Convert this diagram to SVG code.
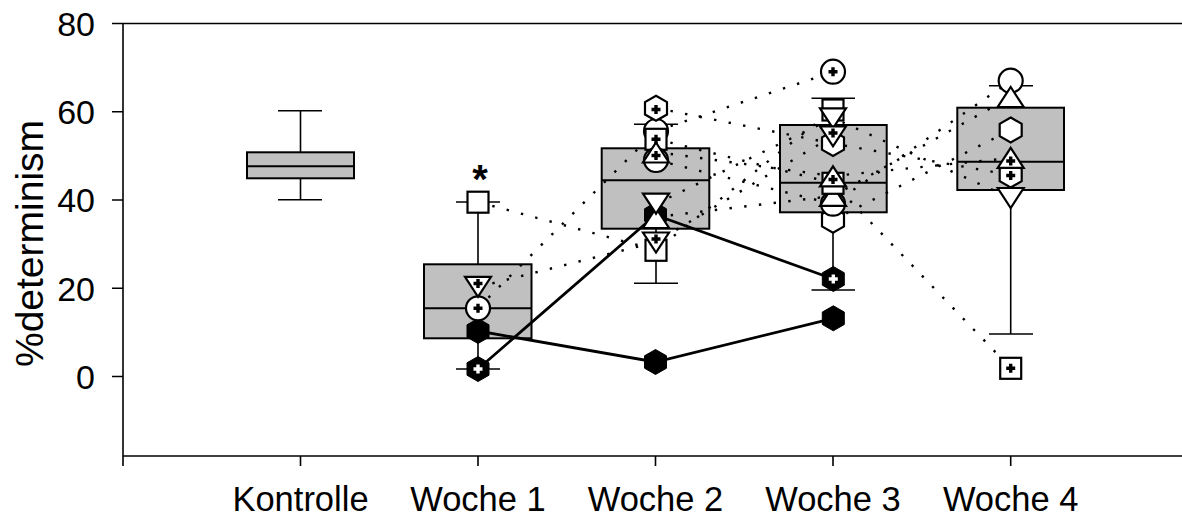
<svg xmlns="http://www.w3.org/2000/svg" xmlns:xlink="http://www.w3.org/1999/xlink" width="1182" height="523" viewBox="0 0 1182 523">
<style>
.ax{stroke:#000;stroke-width:1.6;fill:none}
.box{fill:#c0c0c0;stroke:#000;stroke-width:2}
.wh{stroke:#000;stroke-width:1.6;fill:none}
.dot{stroke:#000;stroke-width:2.4;stroke-dasharray:2.4 12.4;fill:none}
.sol{stroke:#000;stroke-width:2.8;fill:none}
.mk{fill:#fff;stroke:#000;stroke-width:2.2}
.bk{fill:#000;stroke:#000;stroke-width:1}
.cr{stroke:#000;stroke-width:3.4;fill:none}
.wcr{stroke:#fff;stroke-width:3.4;fill:none}
.tl{font-family:"Liberation Sans",Arial,sans-serif;font-size:34px;fill:#000}
.xl{font-family:"Liberation Sans",Arial,sans-serif;font-size:34.5px;fill:#000}
.ttl{font-family:"Liberation Sans",Arial,sans-serif;font-size:39px;fill:#000}
</style>
<defs>
<rect id="sq" class="mk" x="-10.5" y="-10.5" width="21" height="21"/>
<circle id="ci" class="mk" r="12"/>
<polygon id="tu" class="mk" points="0,-10 13,10 -13,10"/>
<polygon id="td" class="mk" points="-13,-10 13,-10 0,10"/>
<polygon id="hx" class="mk" points="0,-12.5 11,-6.2 11,6.2 0,12.5 -11,6.2 -11,-6.2"/>
<polygon id="bh" class="bk" points="0,-12.5 11,-6.2 11,6.2 0,12.5 -11,6.2 -11,-6.2"/>
<path id="cr" class="cr" d="M-4.5,0H4.5M0,-4.5V4.5"/>
<path id="wcr" class="wcr" d="M-4.5,0H4.5M0,-4.5V4.5"/>
</defs>

<g id="axes">
<line class="ax" x1="112" y1="23.5" x2="1182" y2="23.5"/>
<line class="ax" x1="123" y1="23.5" x2="123" y2="456"/>
<line class="ax" x1="123" y1="456" x2="1182" y2="456"/>
<path class="ax" d="M112,111.8H123M112,200H123M112,288.3H123M112,376.5H123"/>
<path class="ax" d="M123,456V466M300.5,456V466M478,456V466M655.5,456V466M833,456V466M1010.7,456V466"/>
<text class="tl" x="95" y="35.7" text-anchor="end">80</text>
<text class="tl" x="95" y="124" text-anchor="end">60</text>
<text class="tl" x="95" y="212.2" text-anchor="end">40</text>
<text class="tl" x="95" y="300.5" text-anchor="end">20</text>
<text class="tl" x="95" y="388.7" text-anchor="end">0</text>
<text class="ttl" transform="translate(42.5,243.5) rotate(-90)" text-anchor="middle">%determinism</text>
<text class="xl" x="300.5" y="511" text-anchor="middle">Kontrolle</text>
<text class="xl" x="478" y="511" text-anchor="middle">Woche 1</text>
<text class="xl" x="655.5" y="511" text-anchor="middle">Woche 2</text>
<text class="xl" x="833" y="511" text-anchor="middle">Woche 3</text>
<text class="xl" x="1010.7" y="511" text-anchor="middle">Woche 4</text>
</g>

<g id="kontrolle">
<path class="wh" d="M300.5,110.7V152.3M300.5,178.3V199.7M278,110.7H322M278,199.7H322"/>
<rect class="box" x="247" y="152.3" width="107" height="26"/>
<line class="wh" x1="247" y1="166.3" x2="354" y2="166.3" style="stroke-width:2"/>
</g>

<g id="woche1-box">
<path class="wh" d="M478,202V264.3M478,338.3V369M456,202H500M456,369H500"/>
<rect class="box" x="424" y="264.3" width="107.5" height="74"/>
<line class="wh" x1="424" y1="308.3" x2="531.5" y2="308.3" style="stroke-width:2"/>
</g>
<g id="woche2-box">
<path class="wh" d="M656,124.3V148.3M656,228.7V283.3M634,124.3H678M634,283.3H678"/>
<rect class="box" x="601.7" y="148.3" width="107.6" height="80.4"/>
<line class="wh" x1="601.7" y1="180.3" x2="709.3" y2="180.3" style="stroke-width:2"/>
</g>
<g id="woche3-box">
<path class="wh" d="M833,98.3V125M833,212.3V290M811.5,98.3H855M811.5,290H855"/>
<rect class="box" x="780" y="125" width="106.7" height="87.3"/>
<line class="wh" x1="780" y1="182.7" x2="886.7" y2="182.7" style="stroke-width:2"/>
</g>
<g id="woche4-box">
<path class="wh" d="M1010.7,85.7V107.7M1010.7,190V334M989,85.7H1033M989,334H1033"/>
<rect class="box" x="957.3" y="107.7" width="106.7" height="82.3"/>
<line class="wh" x1="957.3" y1="161.7" x2="1064" y2="161.7" style="stroke-width:2"/>
</g>

<g id="connectors">
<polyline class="dot" points="478,202 656,250 833,110"/>
<polyline class="dot" points="478,287 656,242 833,136"/>
<polyline class="dot" points="478,308 656,131 833,72"/>
<polyline class="dot" points="656,108 833,143.5 1010.7,175"/>
<polyline class="dot" points="656,139 833,183 1010.7,368"/>
<polyline class="dot" points="656,152 833,176 1010.7,158"/>
<polyline class="dot" points="656,160 833,204 1010.7,81"/>
<polyline class="dot" points="656,204 833,118 1010.7,198"/>
<polyline class="dot" points="656,217 833,196 1010.7,97"/>
<polyline class="dot" points="833,220 1010.7,130"/>
<polyline class="sol" points="478,331 655.5,362 833.3,318.3"/>
<polyline class="sol" points="478,369 655.5,215 833.3,279"/>
</g>

<g id="woche1-points">
<use xlink:href="#sq" x="478" y="202.2"/>
<text x="480" y="193" text-anchor="middle" style="font-family:'Liberation Sans',Arial,sans-serif;font-size:40px;font-weight:bold">*</text>
<use xlink:href="#bh" x="478" y="331"/>
<use xlink:href="#ci" x="478" y="308.3"/><use xlink:href="#cr" x="478" y="308.3"/>
<use xlink:href="#td" x="478" y="286.8"/><use xlink:href="#cr" x="478" y="283.5"/>
<use xlink:href="#bh" x="478" y="369"/><use xlink:href="#wcr" x="478" y="369"/>
</g>

<g id="woche2-points">
<use xlink:href="#ci" x="656" y="131"/>
<use xlink:href="#sq" x="656" y="139.3"/><use xlink:href="#cr" x="656" y="139.3"/>
<use xlink:href="#hx" x="656" y="108.3"/><use xlink:href="#cr" x="656" y="109.5"/>
<use xlink:href="#ci" x="656" y="160"/>
<use xlink:href="#tu" x="656" y="152.5"/><use xlink:href="#cr" x="656" y="155.5"/>
<use xlink:href="#bh" x="655.5" y="215"/>
<use xlink:href="#tu" x="656" y="218"/>
<use xlink:href="#td" x="656" y="203.7"/>
<use xlink:href="#sq" x="656" y="250.3"/>
<use xlink:href="#td" x="656" y="242.5"/><use xlink:href="#cr" x="656" y="239"/>
<use xlink:href="#bh" x="655.5" y="362"/>
</g>

<g id="woche3-points">
<use xlink:href="#ci" x="833" y="71.7"/><use xlink:href="#cr" x="833" y="71.7"/>
<use xlink:href="#sq" x="833" y="110"/>
<use xlink:href="#td" x="833" y="118.3"/>
<use xlink:href="#hx" x="833" y="143.5"/>
<use xlink:href="#td" x="833" y="136.3"/><use xlink:href="#cr" x="833" y="133"/>
<use xlink:href="#hx" x="833" y="220.2"/>
<use xlink:href="#ci" x="833" y="203.7"/>
<use xlink:href="#tu" x="833" y="195.8"/>
<use xlink:href="#sq" x="833" y="183.3"/>
<use xlink:href="#tu" x="833" y="176.3"/><use xlink:href="#cr" x="833" y="179.5"/>
<use xlink:href="#bh" x="833.3" y="279"/><use xlink:href="#wcr" x="833.3" y="279"/>
<use xlink:href="#bh" x="833.3" y="318.3"/>
</g>

<g id="woche4-points">
<use xlink:href="#ci" x="1010.7" y="80.7"/>
<use xlink:href="#tu" x="1010.7" y="97"/>
<use xlink:href="#hx" x="1010.7" y="130"/>
<use xlink:href="#hx" x="1010.7" y="175"/><use xlink:href="#cr" x="1010.7" y="175.5"/>
<use xlink:href="#tu" x="1010.7" y="157.8"/><use xlink:href="#cr" x="1010.7" y="161"/>
<use xlink:href="#td" x="1010.7" y="198"/>
<use xlink:href="#sq" x="1010.7" y="368.3"/><use xlink:href="#cr" x="1010.7" y="368.3"/>
</g>
</svg>
